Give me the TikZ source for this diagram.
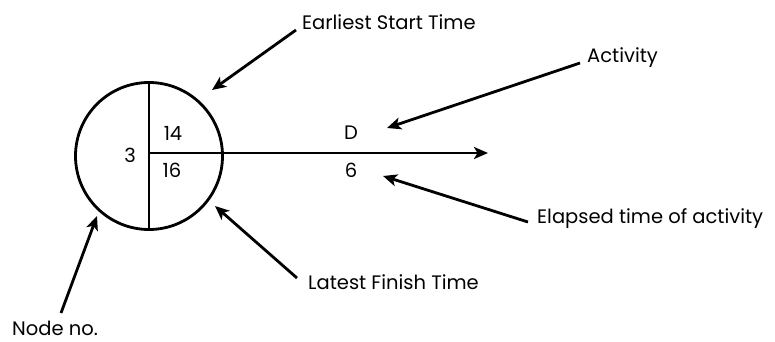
\documentclass[tikz,border=0pt]{standalone}
\usepackage{fontspec}
\setmainfont{Poppins}
\usetikzlibrary{arrows.meta}
\begin{document}
\begin{tikzpicture}[x=1pt,y=-1pt,
  ln/.style={line width=2.8pt},
  ptr/.style={line width=2.8pt,-{Stealth[length=14pt,width=12pt,inset=3.5pt]}},
  lbl/.style={font=\fontsize{19.5}{22}\selectfont,inner sep=0pt},
  num/.style={font=\fontsize{19.5}{22}\selectfont,inner sep=0pt}]
\useasboundingbox (0,0) rectangle (775,342);
\node[draw,circle,line width=2.8pt,minimum size=147pt,inner sep=0pt] (c) at (149,156) {};
\draw[ln] (c.north) -- (c.south);
\coordinate (o) at (149,153);
\coordinate (tip) at (488,153);
\draw[ptr] (o) -- (tip);
\node[num] (n3) at (130,155) {3};
\node[num] (n14) at (173,133) {14};
\node[num] (n16) at (172,170) {16};
\node[num] (nD) at (351,133) {D};
\node[num] (n6) at (351,170) {6};
\node[lbl,anchor=west] (est) at (302,22) {Earliest Start Time};
\node[lbl,anchor=west] (act) at (587,58) {Activity};
\node[lbl,anchor=west] (ela) at (537,219) {Elapsed time of activity};
\node[lbl,anchor=west] (lft) at (308,282) {Latest Finish Time};
\node[lbl,anchor=west] (nno) at (12,328) {Node no.};
% arrow starts (just beside each label)
\coordinate (e0) at ([shift={(-6,8)}]est.west);
\coordinate (a0) at ([shift={(-7,5)}]act.west);
\coordinate (l0) at ([shift={(-9,3)}]ela.west);
\coordinate (f0) at ([shift={(-11,-4)}]lft.west);
\coordinate (n0) at (61,313);
% arrow tips
\coordinate (e1) at (212,90);
\coordinate (a1) at (387,128);
\coordinate (l1) at (383,176);
\coordinate (f1) at (215,206);
\coordinate (n1) at (97,216);
\draw[ptr] (e0) -- (e1);
\draw[ptr] (a0) -- (a1);
\draw[ptr] (l0) -- (l1);
\draw[ptr] (f0) -- (f1);
\draw[ptr] (n0) -- (n1);
\end{tikzpicture}
\end{document}
